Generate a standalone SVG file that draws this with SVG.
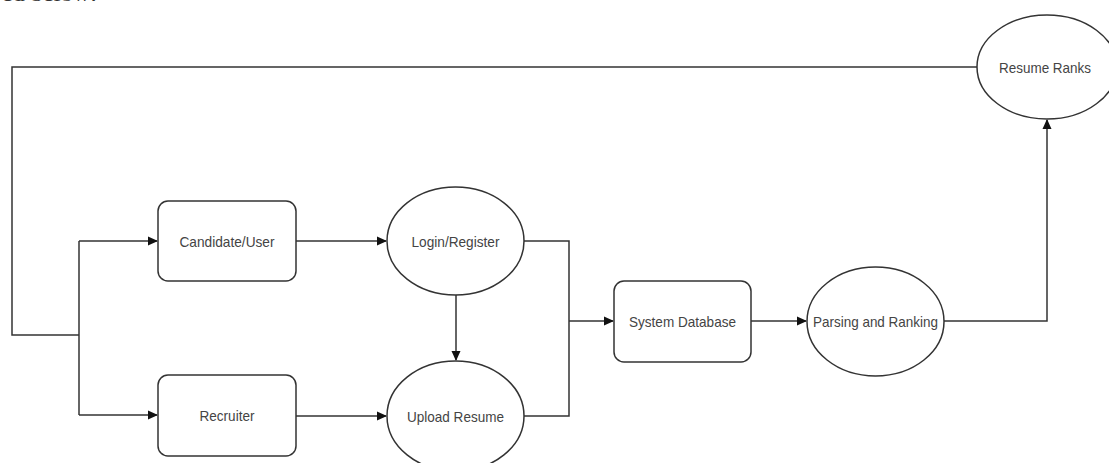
<svg xmlns="http://www.w3.org/2000/svg" width="1109" height="463" viewBox="0 0 1109 463">
<style>
.shape{fill:#fff;stroke:#333;stroke-width:1.5}
.lbl{font-family:"Liberation Sans",Arial,sans-serif;font-size:15px;fill:#444;text-anchor:middle;dominant-baseline:central}
.conn{fill:none;stroke:#333;stroke-width:1.5}
.cut{font-family:"Liberation Serif","Times New Roman",serif;font-size:18px;fill:#333}
</style>
<defs>
<marker id="arr" viewBox="0 0 10 10" refX="9" refY="5" markerWidth="10" markerHeight="10" markerUnits="userSpaceOnUse" orient="auto">
<path d="M0,0.5 L10,5 L0,9.5 z" fill="#111"/>
</marker>
</defs>
<rect width="1109" height="463" fill="#fff"/>
<text class="cut" x="2" y="1.2" textLength="95" lengthAdjust="spacingAndGlyphs">ed below:</text>
<g id="connectors">
<path class="conn" d="M977,67 H12 V335 H79"/>
<path class="conn" d="M79,241 V415" />
<path class="conn" d="M79,241 H157" marker-end="url(#arr)"/>
<path class="conn" d="M79,415 H157" marker-end="url(#arr)"/>
<path class="conn" d="M296,241 H386" marker-end="url(#arr)"/>
<path class="conn" d="M296,416 H386" marker-end="url(#arr)"/>
<path class="conn" d="M456,295 V360" marker-end="url(#arr)"/>
<path class="conn" d="M524,241 H569 V416 H524"/>
<path class="conn" d="M569,321 H613" marker-end="url(#arr)"/>
<path class="conn" d="M751,321 H806" marker-end="url(#arr)"/>
<path class="conn" d="M944,321 H1047 V120" marker-end="url(#arr)"/>
</g>
<g id="candidate">
<rect class="shape" x="158" y="201" width="138" height="80" rx="10"/>
<text class="lbl" x="227" y="241" textLength="95" lengthAdjust="spacingAndGlyphs">Candidate/User</text>
</g>
<g id="recruiter">
<rect class="shape" x="158" y="375" width="138" height="81" rx="10"/>
<text class="lbl" x="227" y="415" textLength="55" lengthAdjust="spacingAndGlyphs">Recruiter</text>
</g>
<g id="login">
<ellipse class="shape" cx="455.5" cy="241" rx="68.5" ry="54"/>
<text class="lbl" x="455.5" y="241" textLength="88" lengthAdjust="spacingAndGlyphs">Login/Register</text>
</g>
<g id="upload">
<ellipse class="shape" cx="455.5" cy="416" rx="68.5" ry="55"/>
<text class="lbl" x="455.5" y="416" textLength="97" lengthAdjust="spacingAndGlyphs">Upload Resume</text>
</g>
<g id="database">
<rect class="shape" x="614" y="281" width="137" height="81" rx="10"/>
<text class="lbl" x="682.5" y="321.5" textLength="107" lengthAdjust="spacingAndGlyphs">System Database</text>
</g>
<g id="parsing">
<ellipse class="shape" cx="875.5" cy="321.5" rx="68.5" ry="54.5"/>
<text class="lbl" x="875.5" y="321.5" textLength="125" lengthAdjust="spacingAndGlyphs">Parsing and Ranking</text>
</g>
<g id="ranks">
<ellipse class="shape" cx="1047" cy="67" rx="70" ry="52"/>
<text class="lbl" x="1045" y="67" textLength="92" lengthAdjust="spacingAndGlyphs">Resume Ranks</text>
</g>
</svg>
